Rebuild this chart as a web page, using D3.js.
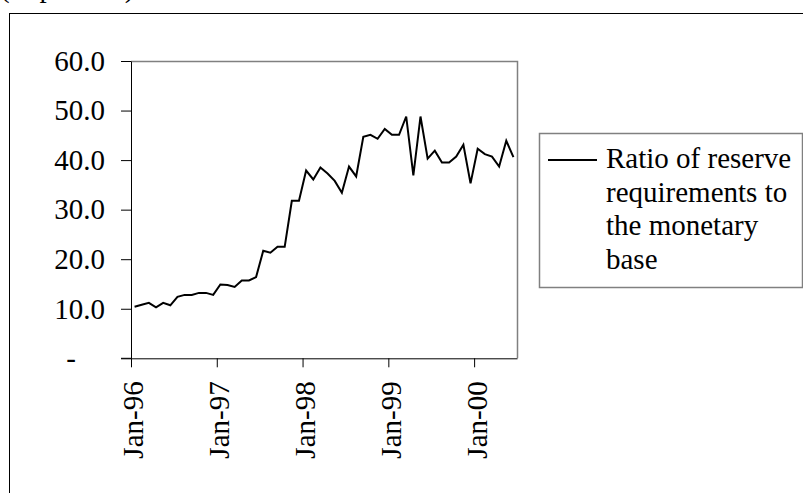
<!DOCTYPE html>
<html>
<head>
<meta charset="utf-8">
<script src="https://cdn.jsdelivr.net/npm/d3@7"></script>
<style>
  html, body { margin: 0; padding: 0; background: #fff; }
  svg { display: block; }
  text { font-family: "Liberation Serif", "Times New Roman", serif; fill: #000; }
</style>
</head>
<body>
<svg id="chart" width="803" height="493"></svg>
<script>
// Monthly observations, Jan-96 .. Jun-00
const months = [
  "Jan-96","Feb-96","Mar-96","Apr-96","May-96","Jun-96","Jul-96","Aug-96","Sep-96","Oct-96","Nov-96","Dec-96",
  "Jan-97","Feb-97","Mar-97","Apr-97","May-97","Jun-97","Jul-97","Aug-97","Sep-97","Oct-97","Nov-97","Dec-97",
  "Jan-98","Feb-98","Mar-98","Apr-98","May-98","Jun-98","Jul-98","Aug-98","Sep-98","Oct-98","Nov-98","Dec-98",
  "Jan-99","Feb-99","Mar-99","Apr-99","May-99","Jun-99","Jul-99","Aug-99","Sep-99","Oct-99","Nov-99","Dec-99",
  "Jan-00","Feb-00","Mar-00","Apr-00","May-00","Jun-00"
];
const ratio = [
  10.4, 10.8, 11.2, 10.3, 11.2, 10.7, 12.4, 12.8, 12.8, 13.2, 13.2, 12.8,
  14.9, 14.8, 14.4, 15.7, 15.7, 16.4, 21.7, 21.3, 22.5, 22.5, 31.8, 31.8,
  37.9, 36.1, 38.5, 37.3, 35.8, 33.4, 38.7, 36.7, 44.7, 45.1, 44.3, 46.3,
  45.1, 45.1, 48.8, 36.9, 48.8, 40.3, 41.9, 39.5, 39.5, 40.7, 43.1, 35.3,
  42.3, 41.2, 40.7, 38.7, 43.9, 40.6
];
const xTickIndex = [0, 12, 24, 36, 48];
const xTickLabels = ["Jan-96", "Jan-97", "Jan-98", "Jan-99", "Jan-00"];
const yTicks = [0, 10, 20, 30, 40, 50, 60];
const seriesName = ["Ratio of reserve", "requirements to", "the monetary", "base"];
const caption = "(in percent)";

(function () {
const svg = d3.select("#chart");
const FS = 29;

// outer frame (extends beyond the picture on right and bottom)
svg.append("rect").attr("x", 9.5).attr("y", 13.5).attr("width", 820).attr("height", 520)
  .attr("fill", "none").attr("stroke", "#000").attr("stroke-width", 1);

// caption, cut at the top
svg.append("text").attr("x", 0).attr("y", -3).attr("font-size", FS).text(caption);

const pL = 131, pR = 517, pT = 61, pB = 358.3;
const x = d3.scaleLinear().domain([0, months.length]).range([pL, pR]);
const y = d3.scaleLinear().domain([0, 60]).range([pB, pT]);

// plot-area border (top/right in grey)
svg.append("path")
  .attr("d", `M${pL},${pT + 0.5}H${pR + 0.5}V${pB}`)
  .attr("fill", "none").attr("stroke", "#808080").attr("stroke-width", 1.5);

// Y axis
const yAxis = d3.axisLeft(y).tickValues(yTicks).tickSize(10).tickSizeOuter(0).tickPadding(16)
  .tickFormat(d => d === 0 ? "-" : d3.format(".1f")(d));
const gy = svg.append("g").attr("transform", `translate(${pL},0)`).call(yAxis);
gy.selectAll("text").attr("font-size", FS).attr("font-family", "Liberation Serif")
  .attr("dx", d => d === 0 ? "-1em" : 0);
gy.selectAll("line").attr("stroke", "#000");
gy.select(".domain").attr("stroke", "#000");

// X axis
const xAxis = d3.axisBottom(x).tickValues(xTickIndex).tickSize(9).tickSizeOuter(0)
  .tickFormat((d, i) => xTickLabels[i]);
const gx = svg.append("g").attr("transform", `translate(0,${pB})`).call(xAxis);
gx.selectAll("text").attr("font-size", FS).attr("font-family", "Liberation Serif")
  .attr("transform", "rotate(-90)")
  .attr("text-anchor", "end")
  .attr("x", -23).attr("y", 1.5).attr("dy", "0.36em");
gx.selectAll("line").attr("stroke", "#000");
gx.select(".domain").attr("stroke", "#000");
svg.append("line").attr("x1", pL - 10).attr("x2", pL).attr("y1", pB).attr("y2", pB)
  .attr("stroke", "#000");

// line series
const line = d3.line().x((d, i) => x(i + 0.5)).y(d => y(d));
svg.append("path").datum(ratio).attr("d", line)
  .attr("fill", "none").attr("stroke", "#000").attr("stroke-width", 2).attr("stroke-linejoin", "miter");

// legend
const lg = svg.append("g");
lg.append("rect").attr("x", 539.5).attr("y", 133.5).attr("width", 263).attr("height", 154)
  .attr("fill", "#fff").attr("stroke", "#808080").attr("stroke-width", 1.5);
lg.append("line").attr("x1", 548).attr("x2", 597).attr("y1", 160).attr("y2", 160)
  .attr("stroke", "#000").attr("stroke-width", 2);
lg.selectAll("text.leg").data(seriesName).enter().append("text").attr("class", "leg")
  .attr("x", 606).attr("y", (d, i) => 168 + i * 33.5).attr("font-size", FS).text(d => d);
})();
</script>
</body>
</html>
